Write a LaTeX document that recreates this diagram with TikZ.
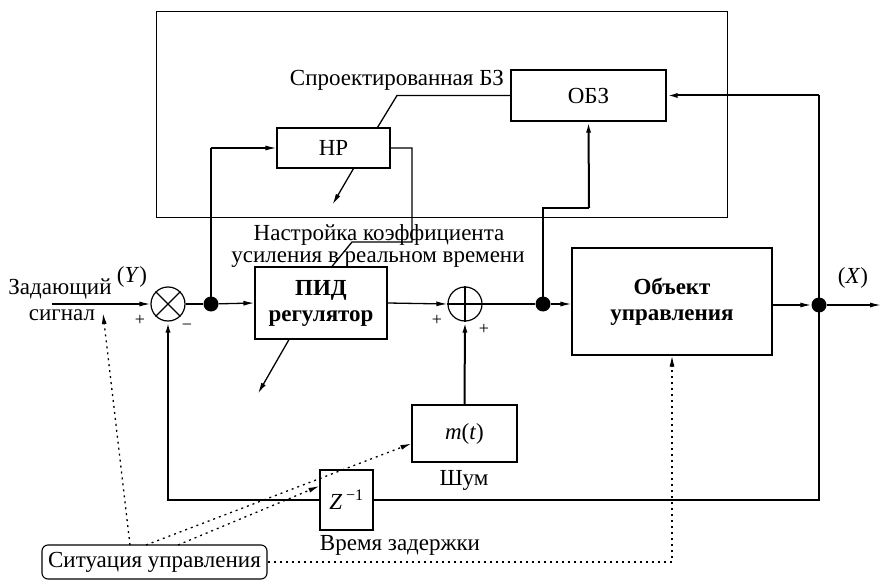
\documentclass[tikz,border=0pt]{standalone}
\usepackage{fontspec}
\setmainfont{Liberation Serif}
\usetikzlibrary{arrows.meta,calc}
\tikzset{
  box/.style={draw,line width=1.1pt,rectangle,inner sep=2pt,align=center},
  arr/.style={line width=1.3pt,-{Latex[length=11pt,width=5pt]}},
  ln/.style={line width=1.3pt},
  thick line/.style={line width=2pt},
  dotarr/.style={line width=1.3pt,dash pattern=on 2pt off 4pt,-{Latex[length=11pt,width=5pt]}},
  junc/.style={circle,fill=black,inner sep=0pt,minimum size=15pt},
  sumnode/.style={circle,draw,line width=1.2pt,inner sep=0pt,minimum size=34pt},
  lbl/.style={inner sep=0pt,align=center}
}
\begin{document}
\begin{tikzpicture}[x=1pt,y=-1pt,font=\fontsize{23}{25}\selectfont]
\useasboundingbox (0,0) rectangle (881,580);
% big knowledge-base box
\draw[line width=1pt] (156,12) rectangle (727,218);
% blocks
\node[box,minimum width=113pt,minimum height=40pt] (hp) at (333.5,148) {НР};
\node[box,minimum width=155pt,minimum height=51pt] (obz) at (588.5,95.5) {ОБЗ};
\node[box,minimum width=132pt,minimum height=72pt,font=\fontsize{23}{26}\selectfont\bfseries] (pid) at (321,303) {ПИД\\регулятор};
\node[box,minimum width=200pt,minimum height=107pt,font=\fontsize{23}{26}\selectfont\bfseries] (obj) at (672,301.5) {Объект\\управления};
\node[box,minimum width=105pt,minimum height=57pt] (mt) at (464.5,433.5) {\textit{m}(\textit{t})};
\node[box,minimum width=53pt,minimum height=60pt] (z) at (346.5,500) {\textit{Z}\,\textsuperscript{−1}};
\node[box,rounded corners=6pt,minimum width=225pt,minimum height=34pt] (sit) at (154.5,562) {Ситуация управления};
% summing junctions
\node[sumnode] (sa) at (168,304) {};
\draw[ln] (sa.north west) -- (sa.south east) (sa.north east) -- (sa.south west);
\node[sumnode] (sb) at (465,304) {};
\draw[ln] (sb.north) -- (sb.south) (sb.west) -- (sb.east);
% junction dots
\node[junc] (d1) at (211,304) {};
\node[junc] (d2) at (543,304) {};
\node[junc] (d3) at (819,305) {};
% coordinates
\coordinate (in) at (52,304);
\coordinate (out) at (881,305);
\coordinate (ys) at (103,313);
\coordinate (s1) at (130,545);
\coordinate (s2) at (146,545);
\coordinate (s3) at (178,545);
% texts
\node[lbl] (tz) at (60,289) {Задающий};
\node[lbl] (ts) at (62,315) {сигнал};
\node[lbl] (ty) at (132,277) {(\textit{Y})};
\node[lbl] (tx) at (853,278) {(\textit{X})};
\node[lbl] (tkb) at (397,80) {Спроектированная БЗ};
\node[lbl] (tn1) at (379,235) {Настройка коэффициента};
\node[lbl] (tn2) at (378,260) {усиления в реальном времени};
\node[lbl] (tsh) at (464,480) {Шум};
\node[lbl] (tvz) at (400,545) {Время задержки};
\node[lbl,font=\fontsize{18}{20}\selectfont] (p1) at (140,320) {+};
\node[lbl,font=\fontsize{18}{20}\selectfont] (m1) at (187,327) {−};
\node[lbl,font=\fontsize{18}{20}\selectfont] (p2) at (437,320) {+};
\node[lbl,font=\fontsize{18}{20}\selectfont] (p3) at (484,329) {+};
% main path
\draw[arr] (in) -- (sa.west);
\draw[ln] (sa.east) -- (d1);
\draw[arr] (d1) -- (pid.west);
\draw[arr] (pid.east) -- (sb.west);
\draw[ln] (sb.east) -- (d2);
\draw[arr] (d2) -- (obj.west |- d2);
\draw[arr] (obj.east |- d3) -- (d3);
\draw[arr] (d3) -- (out);
% to NR
\draw[ln] (d1.center) -- (211,148);
\draw[arr] (211,148) -- (hp.west);
% NR output to PID
\draw[ln] (hp.east) -- (412,148) -- (412,242) -- (352,242) -- ([xshift=11pt]pid.north);
% NR to designed KB
\draw[ln] ([xshift=44pt]hp.north) -- (397,95.5) -- (obz.west);
% tuning arrows
\draw[arr] ([xshift=20pt]hp.south) -- ++(-21,36);
\draw[arr] ([xshift=-32pt]pid.south) -- ++(-31,54);
% to OBZ
\draw[thick line] (d2.center) -- (543,208) -- (589,208);
\draw[thick line,-{Latex[length=11pt,width=5pt]}] (589,208) -- (obz.south);
\draw[thick line] (d3.center) -- (819,95.5);
\draw[thick line,-{Latex[length=11pt,width=5pt]}] (819,95.5) -- (obz.east);
% feedback
\draw[thick line] (d3.center) |- (z.east);
\draw[thick line] (z.west) -| (168,330);
\draw[thick line,-{Latex[length=11pt,width=5pt]}] (168,340) -- (sa.south);
% noise
\draw[thick line,-{Latex[length=11pt,width=5pt]}] (mt.north) -- (sb.south);
% situation dotted arrows
\draw[dotarr] (s1) -- (ys);
\draw[dotarr] (s2) -- ([yshift=-10pt]mt.west);
\draw[dotarr] (s3) -- ([yshift=14pt]z.west);
\draw[dotarr] (sit.east) -| (obj.south);
\end{tikzpicture}
\end{document}
